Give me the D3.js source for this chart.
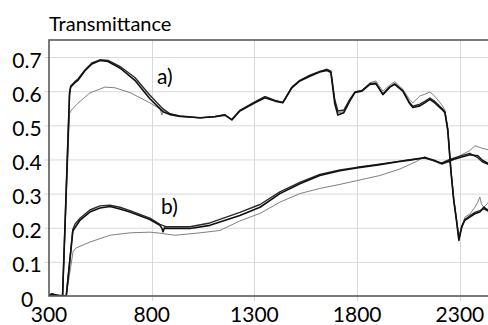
<!DOCTYPE html>
<html>
  <head>
    <meta charset="utf-8">
    <script src="https://d3js.org/d3.v7.min.js"></script>
    <style>
      body { margin: 0; background: #fff; }
      svg text { font-family: Lato, "Open Sans", sans-serif; fill: #000; }
    </style>
  </head>
  <body>
    <svg width="488" height="325"></svg>
    <script>
      // tick values
      const xTicks = [300, 800, 1300, 1800, 2300];
      const yTicks = [0, 0.1, 0.2, 0.3, 0.4, 0.5, 0.6, 0.7];

      // [wavelength, transmittance]
      const aBlack1 = [[300,0.003],[315,0.006],[330,0.002],[366,0],[400,0.595],[405,0.612],[426,0.625],[441,0.632],[475,0.66],[509,0.68],[548,0.69],[587,0.687],[645,0.668],[718,0.632],[791,0.578],[855,0.54],[889,0.532],[937,0.527],[1035,0.522],[1108,0.525],[1156,0.53],[1190,0.516],[1229,0.542],[1302,0.566],[1351,0.581],[1400,0.571],[1438,0.566],[1482,0.61],[1521,0.63],[1570,0.644],[1618,0.656],[1652,0.661],[1672,0.655],[1691,0.563],[1706,0.53],[1735,0.537],[1764,0.571],[1789,0.596],[1823,0.6],[1862,0.62],[1891,0.622],[1925,0.59],[1959,0.612],[1983,0.62],[2022,0.6],[2056,0.563],[2071,0.552],[2105,0.557],[2129,0.566],[2154,0.576],[2178,0.566],[2212,0.547],[2227,0.537],[2241,0.484],[2256,0.367],[2270,0.28],[2285,0.213],[2295,0.163],[2309,0.202],[2324,0.222],[2348,0.231],[2373,0.241],[2397,0.246],[2416,0.26],[2440,0.25]];
      const aBlack2 = [[300,0.004],[366,0],[400,0.59],[406,0.615],[426,0.628],[441,0.636],[475,0.662],[509,0.683],[548,0.692],[587,0.69],[645,0.673],[718,0.64],[791,0.588],[855,0.548],[889,0.534],[937,0.527],[1035,0.522],[1108,0.526],[1156,0.531],[1190,0.517],[1229,0.544],[1302,0.569],[1351,0.584],[1400,0.573],[1438,0.567],[1482,0.612],[1521,0.632],[1570,0.647],[1618,0.658],[1652,0.664],[1672,0.658],[1691,0.575],[1706,0.542],[1735,0.545],[1764,0.576],[1789,0.598],[1823,0.602],[1862,0.622],[1891,0.624],[1925,0.592],[1959,0.613],[1983,0.622],[2022,0.602],[2056,0.566],[2071,0.556],[2105,0.562],[2129,0.57],[2154,0.58],[2178,0.57],[2212,0.55],[2227,0.54],[2241,0.49],[2256,0.37],[2270,0.283],[2285,0.216],[2295,0.168],[2309,0.205],[2324,0.224],[2348,0.235],[2373,0.245],[2397,0.25],[2416,0.255],[2440,0.248]];
      const aGrey = [[300,0.003],[366,0],[400,0.535],[410,0.545],[441,0.565],[499,0.595],[572,0.612],[621,0.61],[694,0.596],[791,0.566],[840,0.548],[850,0.53],[860,0.545],[889,0.53],[937,0.525],[1035,0.522],[1108,0.526],[1156,0.531],[1190,0.517],[1229,0.543],[1302,0.568],[1351,0.585],[1400,0.573],[1438,0.567],[1482,0.611],[1521,0.631],[1570,0.646],[1618,0.658],[1652,0.665],[1672,0.66],[1691,0.57],[1706,0.537],[1735,0.54],[1764,0.574],[1789,0.598],[1823,0.603],[1862,0.625],[1891,0.63],[1925,0.6],[1959,0.618],[1983,0.628],[2022,0.606],[2056,0.575],[2071,0.566],[2105,0.586],[2129,0.591],[2154,0.598],[2178,0.585],[2212,0.56],[2227,0.545],[2241,0.49],[2256,0.37],[2270,0.283],[2285,0.22],[2295,0.175],[2309,0.2],[2324,0.231],[2348,0.24],[2373,0.26],[2387,0.275],[2397,0.29],[2405,0.27],[2416,0.26],[2440,0.275]];
      const bBlack1 = [[300,0.003],[315,0.006],[340,0.002],[384,0],[416,0.19],[426,0.2],[451,0.222],[499,0.246],[548,0.258],[597,0.262],[645,0.255],[694,0.246],[791,0.224],[840,0.207],[850,0.198],[855,0.188],[862,0.2],[869,0.198],[986,0.198],[1083,0.207],[1229,0.236],[1327,0.26],[1424,0.3],[1521,0.329],[1618,0.353],[1716,0.367],[1798,0.375],[1910,0.385],[2008,0.394],[2056,0.398],[2129,0.406],[2178,0.397],[2212,0.387],[2251,0.397],[2300,0.406],[2348,0.414],[2387,0.411],[2411,0.397],[2440,0.387]];
      const bBlack2 = [[300,0.002],[384,0],[416,0.195],[426,0.21],[451,0.228],[499,0.252],[548,0.264],[597,0.266],[645,0.26],[694,0.25],[791,0.228],[840,0.21],[869,0.203],[986,0.203],[1083,0.214],[1229,0.245],[1327,0.268],[1424,0.305],[1521,0.333],[1618,0.356],[1716,0.369],[1798,0.377],[1910,0.386],[2008,0.395],[2056,0.399],[2129,0.404],[2178,0.395],[2212,0.39],[2251,0.4],[2300,0.41],[2348,0.418],[2387,0.405],[2411,0.392],[2440,0.385]];
      const bGrey = [[300,0.003],[384,0],[417,0.13],[430,0.14],[499,0.158],[597,0.178],[694,0.185],[791,0.187],[840,0.184],[913,0.178],[1035,0.185],[1132,0.192],[1229,0.22],[1327,0.242],[1424,0.275],[1521,0.3],[1618,0.315],[1716,0.327],[1798,0.338],[1910,0.353],[2008,0.372],[2081,0.392],[2129,0.408],[2202,0.387],[2251,0.392],[2300,0.411],[2348,0.426],[2373,0.44],[2397,0.435],[2440,0.428]];

      const svg = d3.select('svg');
      const margin = { left: 49, top: 40 };
      const innerWidth = 452;   // 300..2500 nm, right edge cut by the window
      const innerHeight = 256;

      const x = d3.scaleLinear().domain([300, 2500]).range([margin.left, margin.left + innerWidth]);
      const y = d3.scaleLinear().domain([0, 0.75]).range([margin.top + innerHeight, margin.top]);

      // grid
      svg.append('g').selectAll('line').data(yTicks.slice(1)).enter().append('line')
        .attr('x1', margin.left - 5).attr('x2', margin.left + innerWidth)
        .attr('y1', d => y(d) + 0.5).attr('y2', d => y(d) + 0.5)
        .attr('stroke', '#d9d9d9');
      svg.append('g').selectAll('line').data(xTicks.slice(1)).enter().append('line')
        .attr('x1', d => Math.round(x(d)) + 0.5).attr('x2', d => Math.round(x(d)) + 0.5)
        .attr('y1', margin.top).attr('y2', margin.top + innerHeight + 5)
        .attr('stroke', '#d9d9d9');

      svg.append('defs').append('clipPath').attr('id', 'clip')
        .append('rect').attr('x', margin.left).attr('y', margin.top)
        .attr('width', innerWidth).attr('height', innerHeight);

      const line = d3.line().x(d => x(d[0])).y(d => y(d[1]));
      const plot = svg.append('g').attr('clip-path', 'url(#clip)');
      const series = [
        { d: aGrey, c: '#808080', w: 1 },
        { d: bGrey, c: '#808080', w: 1 },
        { d: aBlack2, c: '#2a2a2a', w: 1.4 },
        { d: bBlack2, c: '#2a2a2a', w: 1.4 },
        { d: aBlack1, c: '#111', w: 1.6 },
        { d: bBlack1, c: '#111', w: 1.6 }
      ];
      plot.selectAll('path').data(series).enter().append('path')
        .attr('d', s => line(s.d))
        .attr('fill', 'none')
        .attr('stroke', s => s.c)
        .attr('stroke-width', s => s.w)
        .attr('stroke-linejoin', 'round');

      // frame
      svg.append('rect')
        .attr('x', margin.left).attr('y', margin.top)
        .attr('width', innerWidth).attr('height', innerHeight)
        .attr('fill', 'none').attr('stroke', '#595959').attr('stroke-width', 1.6);

      // tick labels
      svg.append('g').selectAll('text').data(yTicks).enter().append('text')
        .attr('x', 27).attr('y', d => y(d) + 10.5)
        .attr('text-anchor', 'middle')
        .style('font-size', '21px')
        .text(d => d === 0 ? '0' : d3.format('.1f')(d));
      svg.append('g').selectAll('text').data(xTicks).enter().append('text')
        .attr('x', d => x(d)).attr('y', 322)
        .attr('text-anchor', 'middle')
        .style('font-size', '21px')
        .text(d => d);

      svg.append('text').attr('x', 49).attr('y', 31).style('font-size', '20px').text('Transmittance');
      svg.append('text').attr('x', 157).attr('y', 84).style('font-size', '21px').text('a)');
      svg.append('text').attr('x', 161).attr('y', 214).style('font-size', '21px').text('b)');
    </script>
  </body>
</html>
